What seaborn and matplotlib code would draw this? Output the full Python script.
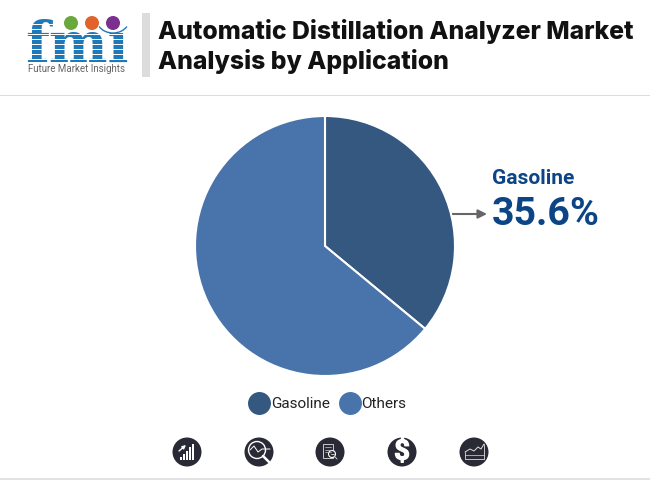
import matplotlib
matplotlib.use("Agg")
import matplotlib.pyplot as plt
import matplotlib.patheffects as pe
from matplotlib.lines import Line2D
from matplotlib.patches import Circle, Rectangle, Arc
import seaborn as sns

categories = ["Gasoline", "Others"]
# slice as drawn in the picture (the printed label says 35.6%)
shares = [36, 64]
title_lines = ["Automatic Distillation Analyzer Market", "Analysis by Application"]
callout_label = "Gasoline"
callout_value = "35.6%"
logo_caption = "Future Market Insights"

sns.set_theme(style="white", font="Roboto")
palette = sns.color_palette(["#34587f", "#4874ab"])
NAVY = "#0b4586"
ICON = "#2a2a36"

W, H = 650, 480
fig = plt.figure(figsize=(W / 100, H / 100), dpi=100, facecolor="white")

# page overlay in pixel coordinates
bg = fig.add_axes([0, 0, 1, 1])
bg.set_xlim(0, W)
bg.set_ylim(H, 0)
bg.set_aspect("equal")
bg.axis("off")

# pie, centre (325, 246) radius 130
R = 130
ax = fig.add_axes([(325 - R) / W, 1 - (246 + R) / H, 2 * R / W, 2 * R / H])
ax.pie(shares, colors=palette, startangle=90, counterclock=False, radius=1,
       wedgeprops=dict(edgecolor="white", linewidth=1.5))
ax.set_xlim(-1, 1)
ax.set_ylim(-1, 1)

# header
bg.add_patch(Rectangle((142, 13), 8, 64, color="#dcdcdc", lw=0))
bg.add_patch(Rectangle((0, 94.5), W, 1.5, color="#dcdcdc", lw=0))
bg.add_patch(Rectangle((0, 477.5), W, 2.5, color="#e2e2e2", lw=0))
bg.text(158, 31, title_lines[0], family="Inter", fontsize=17.85, fontweight="heavy", color="#111111",
        va="center", ha="left")
bg.text(158, 61, title_lines[1], family="Inter", fontsize=17.85, fontweight="heavy", color="#111111",
        va="center", ha="left")

# logo
blue = "#1f78b8"
bg.text(77, 61.5, "fmi", family="DejaVu Serif", fontsize=40, fontweight="bold", color=blue,
        ha="center", va="baseline")
for y in range(24, 62, 5):
    bg.add_patch(Rectangle((26, y), 104, 1.1, color="white", lw=0, zorder=3))
bg.add_patch(Rectangle((63, 8), 70, 24, color="white", lw=0, zorder=3.5))
bg.add_patch(Circle((71, 23), 7, color="#6aa83c", lw=0, zorder=4))
bg.add_patch(Circle((92, 23), 7, color="#e2622b", lw=0, zorder=4))
bg.add_patch(Circle((113, 23), 7, color="#7b2f8e", lw=0, zorder=4))
bg.add_patch(Arc((113, 20), 32, 26, theta1=25, theta2=155, color=blue, lw=1, zorder=4))
bg.text(76, 68.5, logo_caption, fontsize=7, color="#666666", ha="center", va="center")

# callout
bg.annotate("", xy=(487, 214), xytext=(452, 214),
            arrowprops=dict(arrowstyle="-|>", color="#666666", lw=1.5, mutation_scale=13, shrinkA=0, shrinkB=0))
bg.text(492, 178.5, callout_label, fontsize=15, fontweight="bold", color=NAVY, va="center", ha="left")
bg.text(491.5, 214.5, callout_value, fontsize=28.3, fontweight="bold", color=NAVY, va="center", ha="left")

# legend
handles = [Line2D([], [], marker="o", ls="", ms=15.5, mfc=c, mec=c) for c in palette]
fig.legend(handles, categories, loc="center", bbox_to_anchor=(325 / W, 1 - 404 / H), ncol=2, frameon=False,
           fontsize=11, labelcolor="#222222", handletextpad=-0.25, columnspacing=0.3, borderpad=0)

# icon row
for x in [187, 259, 330, 402, 474]:
    bg.add_patch(Circle((x, 452), 14.5, color=ICON, lw=0))
# bars icon
for i, h in enumerate([3, 6, 9, 13, 16]):
    bg.add_patch(Rectangle((180 + i * 3, 460 - h), 1.8, h, color="white", lw=0))
bg.annotate("", xy=(186, 445), xytext=(179, 451),
            arrowprops=dict(arrowstyle="-|>", color="white", lw=1, mutation_scale=5, shrinkA=0, shrinkB=0))
# magnifier icon
bg.add_patch(Circle((257, 450), 8.5, fill=False, ec="white", lw=1))
bg.plot([263, 271], [456, 464], color="white", lw=1.8)
bg.plot([250, 254, 258, 262, 270], [450, 446, 452, 449, 449], color="white", lw=0.7)
# report icon
bg.add_patch(Rectangle((323, 444), 10, 14, fill=False, ec="#cccccc", lw=0.7))
for y in [447, 449.5, 452]:
    bg.plot([325, 331], [y, y], color="#cccccc", lw=0.5)
bg.add_patch(Circle((332, 454), 3.5, fc=ICON, ec="white", lw=0.8))
bg.plot([330.5, 333.5], [454, 454], color="white", lw=0.5)
bg.plot([334.5, 337], [456.5, 459], color="#cccccc", lw=0.7)
# dollar icon
bg.text(402, 452, "$", fontsize=20, fontweight="bold", color="white", ha="center", va="center",
        path_effects=[pe.withStroke(linewidth=0.8, foreground="white")])
# area icon
bg.plot([465, 470, 474, 478, 481, 484], [452, 449, 451, 447, 449, 444], color="#dddddd", lw=0.7)
bg.plot([465, 465, 484, 484], [452, 459, 459, 444], color="#dddddd", lw=0.6)
bg.plot([465, 484], [455, 455], color="#dddddd", lw=0.5)

fig.savefig("out.png", dpi=100)
